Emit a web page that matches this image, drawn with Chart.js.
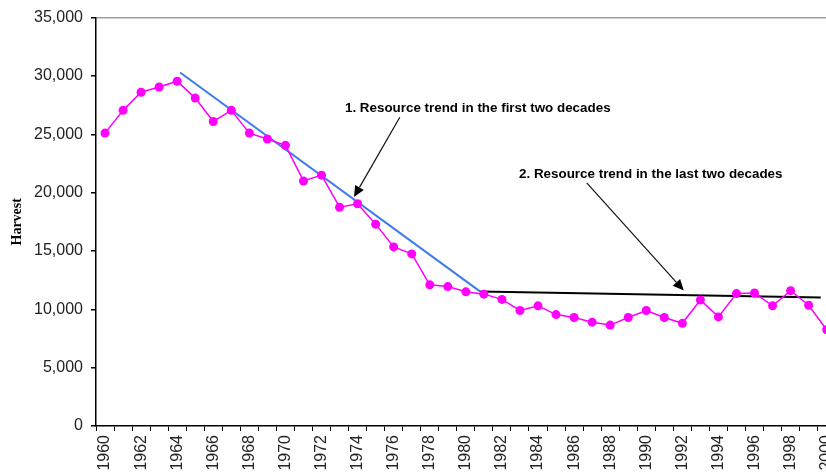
<!DOCTYPE html>
<html>
<head>
<meta charset="utf-8">
<script src="https://cdn.jsdelivr.net/npm/chart.js@4/dist/chart.umd.min.js"></script>
<style>
  body { margin: 0; overflow: hidden; background: #fff; }
  #wrap { width: 850px; height: 475px; }
</style>
</head>
<body>
<div id="wrap"><canvas id="harvestChart" width="850" height="475"></canvas></div>
<script>
// data
const years = ['1960','1961','1962','1963','1964','1965','1966','1967','1968','1969',
               '1970','1971','1972','1973','1974','1975','1976','1977','1978','1979',
               '1980','1981','1982','1983','1984','1985','1986','1987','1988','1989',
               '1990','1991','1992','1993','1994','1995','1996','1997','1998','1999','2000'];
const harvest = [25100, 27050, 28600, 29050, 29550, 28100, 26100, 27050, 25100, 24600,
                 24050, 21000, 21500, 18750, 19050, 17300, 15350, 14750, 12100, 11950,
                 11500, 11300, 10850, 9900, 10300, 9550, 9300, 8900, 8650, 9300,
                 9900, 9300, 8800, 10800, 9350, 11350, 11400, 10300, 11600, 10350, 8250];

const firstTrendYears = [1964.16, 1980.8];
const firstTrendValues = [30300, 11520];
const lastTrendYears = [1980.8, 1999.67];
const lastTrendValues = [11520, 11010];

const yMin = 0, yMax = 35000, yStep = 5000;

const notes = [
    { text: '1. Resource trend in the first two decades', x: 1980.66, y: 27230,
      from: [1976.34, 26460], to: [1973.8, 19630] },
    { text: '2. Resource trend in the last two decades', x: 1990.25, y: 21600,
      from: [1986.7, 20830], to: [1992.08, 11610] }
];

function toPoints(xs, ys) {
    return xs.map((x, i) => ({ x: x, y: ys[i] }));
}

const notesPlugin = {
    id: 'notes',
    afterDatasetsDraw(chart) {
        const ctx = chart.ctx;
        const xs = chart.scales.x2, ys = chart.scales.y;
        ctx.save();
        ctx.font = 'bold 13.4px "Liberation Sans", Arial, sans-serif';
        ctx.fillStyle = '#000';
        ctx.textAlign = 'center';
        ctx.textBaseline = 'middle';
        notes.forEach(n => {
            ctx.fillText(n.text, xs.getPixelForValue(n.x), ys.getPixelForValue(n.y));
            const x1 = xs.getPixelForValue(n.from[0]), y1 = ys.getPixelForValue(n.from[1]);
            const x2 = xs.getPixelForValue(n.to[0]), y2 = ys.getPixelForValue(n.to[1]);
            const a = Math.atan2(y2 - y1, x2 - x1);
            const len = 11, half = 5;
            const bx = x2 - len * Math.cos(a), by = y2 - len * Math.sin(a);
            ctx.strokeStyle = '#111';
            ctx.lineWidth = 1.2;
            ctx.beginPath();
            ctx.moveTo(x1, y1);
            ctx.lineTo(bx, by);
            ctx.stroke();
            ctx.beginPath();
            ctx.moveTo(x2, y2);
            ctx.lineTo(bx + half * Math.sin(a), by - half * Math.cos(a));
            ctx.lineTo(bx - half * Math.sin(a), by + half * Math.cos(a));
            ctx.closePath();
            ctx.fill();
        });
        ctx.restore();
    }
};

const ctx = document.getElementById('harvestChart');
const myChart = new Chart(ctx, {
    type: 'line',
    data: {
        labels: years,
        datasets: [
            {
                label: 'Harvest',
                data: harvest,
                borderColor: '#ff00ff',
                backgroundColor: '#ff00ff',
                borderWidth: 1.5,
                pointRadius: 4.5,
                pointBorderWidth: 0,
                tension: 0,
                order: 1
            },
            {
                label: 'Trend 1',
                data: toPoints(firstTrendYears, firstTrendValues),
                xAxisID: 'x2',
                borderColor: '#3f7be8',
                borderWidth: 2,
                pointRadius: 0,
                order: 2
            },
            {
                label: 'Trend 2',
                data: toPoints(lastTrendYears, lastTrendValues),
                xAxisID: 'x2',
                borderColor: '#000',
                borderWidth: 2,
                pointRadius: 0,
                order: 2
            }
        ]
    },
    options: {
        responsive: false,
        animation: false,
        layout: { padding: { top: 15, right: 10, left: 0, bottom: 0 } },
        plugins: {
            legend: { display: false },
            tooltip: { enabled: false }
        },
        scales: {
            x: {
                type: 'category',
                offset: true,
                grid: {
                    offset: true,
                    drawOnChartArea: false,
                    tickLength: 5,
                    tickColor: '#000'
                },
                border: { color: '#000', width: 1.5 },
                ticks: {
                    autoSkip: false,
                    minRotation: 90,
                    maxRotation: 90,
                    padding: 4,
                    color: '#222',
                    font: { family: '"Liberation Sans", Arial, sans-serif', size: 16 },
                    callback: (v, i) => (i % 2 === 0 ? years[i] : '')
                },
                afterFit: s => { s.height = 49; }
            },
            x2: {
                type: 'linear',
                display: false,
                min: 1959.5,
                max: 2000.5
            },
            y: {
                min: yMin,
                max: yMax,
                grid: {
                    color: c => (c.tick && c.tick.value === yMax ? '#a0a0a0' : 'rgba(0,0,0,0)'),
                    lineWidth: 1.5,
                    tickLength: 5,
                    tickColor: '#000'
                },
                border: { color: '#000', width: 1.5 },
                ticks: {
                    stepSize: yStep,
                    padding: 8,
                    color: '#222',
                    font: { family: '"Liberation Sans", Arial, sans-serif', size: 16 },
                    callback: v => v.toLocaleString('en-US')
                },
                title: {
                    display: true,
                    text: 'Harvest',
                    color: '#000',
                    padding: { top: 9, bottom: 0 },
                    font: { family: '"Liberation Serif", "Times New Roman", serif', size: 14, weight: 'bold' }
                },
                afterFit: s => { s.width = 96; }
            }
        }
    },
    plugins: [notesPlugin]
});
</script>
</body>
</html>
